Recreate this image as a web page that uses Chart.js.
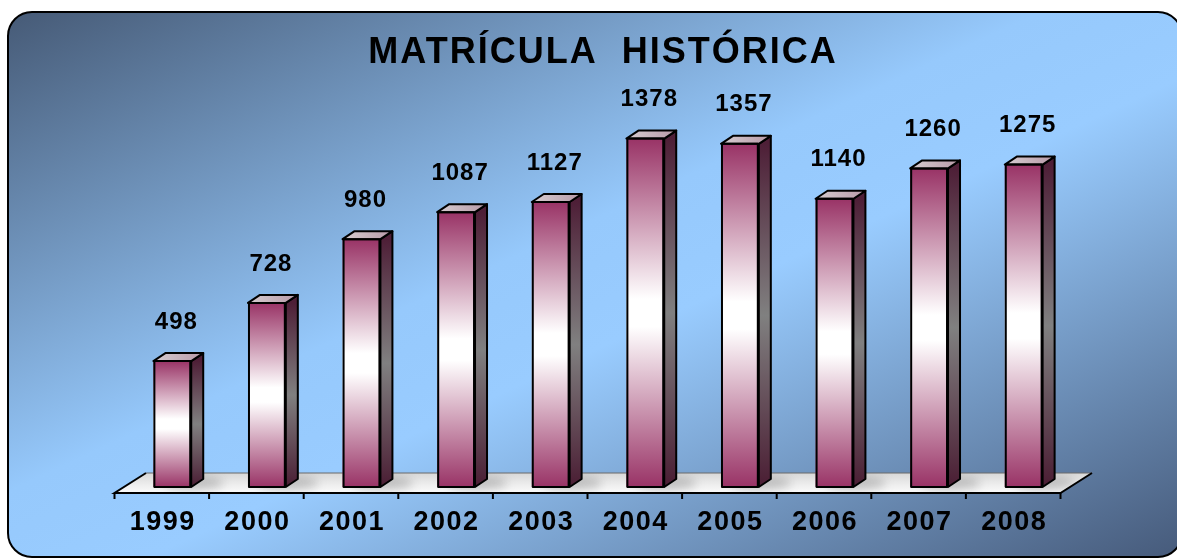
<!DOCTYPE html>
<html>
<head>
<meta charset="utf-8">
<script src="https://cdn.jsdelivr.net/npm/chart.js@4/dist/chart.umd.min.js"></script>
<style>
  html, body { margin: 0; padding: 0; background: #ffffff; }
  canvas { display: block; }
</style>
</head>
<body>
<canvas id="c" width="1177" height="558"></canvas>
<script>
// ---- data ----
const chartTitle = 'MATRÍCULA  HISTÓRICA';
const categories = ['1999', '2000', '2001', '2002', '2003', '2004', '2005', '2006', '2007', '2008'];
const enrollment = [498, 728, 980, 1087, 1127, 1378, 1357, 1140, 1260, 1275];
const yMax = 1400;

// ---- style ----
const FONT = '"Liberation Sans", Arial, Helvetica, sans-serif';
const DEPTH_X = 12, DEPTH_Y = -8;        // bar depth
const FLOOR_DX = 31.5, FLOOR_DY = -20;   // floor depth
const FLOOR_SHIFT = -10.5, FLOOR_DROP = 6;

function frontGradient(ctx, top, bottom) {
  const g = ctx.createLinearGradient(0, top, 0, bottom);
  g.addColorStop(0, '#993366');
  g.addColorStop(0.46, '#ffffff');
  g.addColorStop(0.54, '#ffffff');
  g.addColorStop(1, '#993366');
  return g;
}

const threeD = {
  id: 'threeD',
  beforeDraw(chart) {
    const ctx = chart.ctx;
    ctx.save();
    const x0 = 8, y0 = 12, x1 = 1182, y1 = 557, r = 24;
    const W = x1 - x0, H = y1 - y0, cx = (x0 + x1) / 2, cy = (y0 + y1) / 2;
    const k = W * H / (W * W + H * H);
    const g = ctx.createLinearGradient(cx - H * k, cy - W * k, cx + H * k, cy + W * k);
    g.addColorStop(0, '#465a76');
    g.addColorStop(0.44, '#96c9fc');
    g.addColorStop(0.56, '#99ccff');
    g.addColorStop(1, '#465a7a');
    ctx.beginPath();
    ctx.roundRect(x0, y0, W, H, r);
    ctx.fillStyle = g;
    ctx.fill();
    ctx.lineWidth = 2;
    ctx.strokeStyle = '#000';
    ctx.stroke();
    // title
    ctx.font = 'bold 36px ' + FONT;
    ctx.letterSpacing = '2px';
    ctx.textAlign = 'center';
    ctx.textBaseline = 'middle';
    ctx.fillStyle = '#000';
    ctx.fillText(chartTitle, 603, 53);
    ctx.restore();
    ctx.letterSpacing = '1.5px'; // for axis tick labels
  },
  beforeDatasetsDraw(chart) {
    const ctx = chart.ctx;
    ctx.letterSpacing = '0px';
    const xs = chart.scales.x;
    const { left, right, bottom } = chart.chartArea;
    const fx0 = left + FLOOR_SHIFT, fx1 = right + FLOOR_SHIFT, fy = bottom + FLOOR_DROP;
    ctx.save();
    ctx.beginPath();
    ctx.moveTo(fx0, fy);
    ctx.lineTo(fx1, fy);
    ctx.lineTo(fx1 + FLOOR_DX, fy + FLOOR_DY);
    ctx.lineTo(fx0 + FLOOR_DX, fy + FLOOR_DY);
    ctx.closePath();
    const g = ctx.createLinearGradient(0, fy + FLOOR_DY, 0, fy);
    g.addColorStop(0, '#d8d8d8');
    g.addColorStop(0.6, '#eeeeee');
    g.addColorStop(1, '#fbfbfb');
    ctx.fillStyle = g;
    ctx.fill();
    // soft shadows
    ctx.save();
    ctx.clip();
    ctx.filter = 'blur(5px)';
    const meta = chart.getDatasetMeta(0);
    meta.data.forEach(el => {
      ctx.beginPath();
      ctx.ellipse(el.x + el.width * 0.55, el.base - 4, el.width * 0.8, 7, 0, 0, Math.PI * 2);
      ctx.fillStyle = 'rgba(90,90,90,0.3)';
      ctx.fill();
    });
    ctx.restore();
    // back edge
    ctx.beginPath();
    ctx.moveTo(fx0 + FLOOR_DX, fy + FLOOR_DY);
    ctx.lineTo(fx1 + FLOOR_DX, fy + FLOOR_DY);
    ctx.lineWidth = 1;
    ctx.strokeStyle = '#6a6a6a';
    ctx.stroke();
    // front and side edges
    ctx.beginPath();
    ctx.moveTo(fx0 + FLOOR_DX, fy + FLOOR_DY);
    ctx.lineTo(fx0, fy);
    ctx.lineTo(fx1, fy);
    ctx.lineTo(fx1 + FLOOR_DX, fy + FLOOR_DY);
    ctx.lineWidth = 2;
    ctx.strokeStyle = '#000';
    ctx.lineJoin = 'miter';
    ctx.stroke();
    // tick marks at category boundaries
    const catW = xs.getPixelForValue(1) - xs.getPixelForValue(0);
    ctx.beginPath();
    for (let i = 0; i <= categories.length; i++) {
      const bx = xs.getPixelForValue(i) - catW / 2 + FLOOR_SHIFT;
      ctx.moveTo(bx, fy);
      ctx.lineTo(bx, fy + 6);
    }
    ctx.stroke();
    ctx.restore();
  },
  afterDatasetsDraw(chart) {
    const ctx = chart.ctx;
    const meta = chart.getDatasetMeta(0);
    ctx.save();
    ctx.lineWidth = 2;
    ctx.strokeStyle = '#000';
    ctx.lineJoin = 'round';
    meta.data.forEach((el, i) => {
      const xl = el.x - el.width / 2, xr = el.x + el.width / 2;
      const top = el.y, base = el.base;
      // side face
      ctx.beginPath();
      ctx.moveTo(xr, top);
      ctx.lineTo(xr + DEPTH_X, top + DEPTH_Y);
      ctx.lineTo(xr + DEPTH_X, base + DEPTH_Y);
      ctx.lineTo(xr, base);
      ctx.closePath();
      const sg = ctx.createLinearGradient(0, top, 0, base);
      sg.addColorStop(0, '#4e1f37');
      sg.addColorStop(0.5, '#808080');
      sg.addColorStop(1, '#4a1d33');
      ctx.fillStyle = sg;
      ctx.fill();
      ctx.stroke();
      // top face
      ctx.beginPath();
      ctx.moveTo(xl, top);
      ctx.lineTo(xl + DEPTH_X, top + DEPTH_Y);
      ctx.lineTo(xr + DEPTH_X, top + DEPTH_Y);
      ctx.lineTo(xr, top);
      ctx.closePath();
      const tg = ctx.createLinearGradient(xl, 0, xr + DEPTH_X, 0);
      tg.addColorStop(0, '#d6cdd1');
      tg.addColorStop(1, '#b89aa8');
      ctx.fillStyle = tg;
      ctx.fill();
      ctx.stroke();
      // front outline
      ctx.strokeRect(xl + 1, top, el.width - 2, base - top);
      // value label
      ctx.font = 'bold 24px ' + FONT;
      ctx.letterSpacing = '1px';
      ctx.textAlign = 'center';
      ctx.textBaseline = 'middle';
      ctx.fillStyle = '#000';
      ctx.fillText(String(enrollment[i]), el.x + 4, top - 39);
    });
    ctx.restore();
  }
};

new Chart(document.getElementById('c'), {
  type: 'bar',
  data: {
    labels: categories,
    datasets: [{
      data: enrollment,
      backgroundColor: (c) => {
        const y = c.chart.scales.y;
        if (c.type !== 'data' || !y || !isFinite(c.raw)) return '#993366';
        const t = y.getPixelForValue(c.raw), b = y.getPixelForValue(0);
        if (!isFinite(t) || !isFinite(b)) return '#993366';
        return frontGradient(c.chart.ctx, t, b);
      },
      borderColor: '#000',
      borderWidth: 0,
      categoryPercentage: 1,
      barPercentage: 0.4
    }]
  },
  options: {
    responsive: false,
    animation: false,
    events: [],
    layout: { padding: { left: 125, right: 106, top: 133, bottom: 0 } },
    plugins: { legend: { display: false }, tooltip: { enabled: false }, title: { display: false } },
    scales: {
      x: {
        grid: { display: false, drawTicks: false },
        border: { display: false },
        ticks: {
          color: '#000',
          font: { family: FONT, size: 27, weight: 'bold' },
          padding: 19,
          labelOffset: FLOOR_SHIFT + 1,
          maxRotation: 0,
          autoSkip: false
        },
        afterFit: (scale) => { scale.height = 71; }
      },
      y: {
        display: false,
        min: 0,
        max: yMax
      }
    }
  },
  plugins: [threeD]
});
</script>
</body>
</html>
